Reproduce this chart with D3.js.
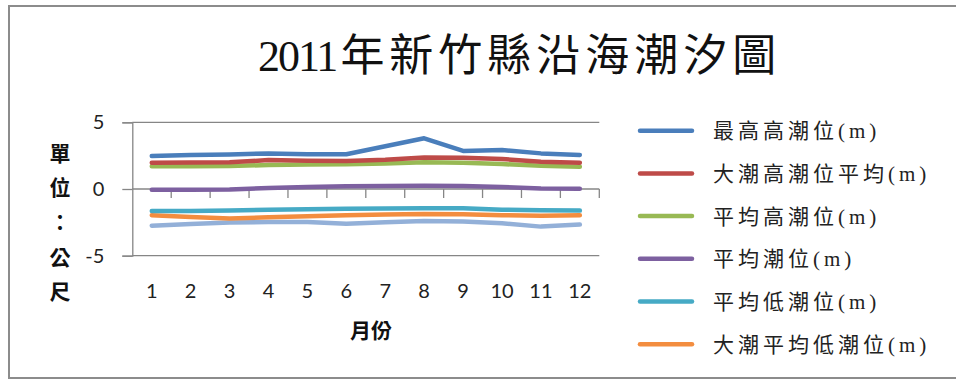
<!DOCTYPE html>
<html>
<head>
<meta charset="utf-8">
<script src="https://cdn.jsdelivr.net/npm/d3@7"></script>
<style>
  html, body { margin: 0; padding: 0; background: #fff; }
  svg { display: block; }
</style>
</head>
<body>
<svg id="chart" width="956" height="380"></svg>
<script>
// Monthly tide levels (m), Hsinchu County coast, 2011
const months = ["1", "2", "3", "4", "5", "6", "7", "8", "9", "10", "11", "12"];
const seriesNames = [
  "最高高潮位(m)",
  "大潮高潮位平均(m)",
  "平均高潮位(m)",
  "平均潮位(m)",
  "平均低潮位(m)",
  "大潮平均低潮位(m)",
  "最低低潮位(m)"
];
const highestHigh = [2.47, 2.55, 2.58, 2.67, 2.6, 2.6, 3.2, 3.8, 2.85, 2.92, 2.67, 2.55];
const springHighMean = [1.97, 1.98, 2.0, 2.17, 2.12, 2.1, 2.2, 2.37, 2.35, 2.25, 2.05, 1.97];
const meanHigh = [1.7, 1.7, 1.72, 1.8, 1.83, 1.85, 1.92, 2.0, 1.97, 1.87, 1.75, 1.67];
const meanLevel = [-0.05, -0.05, -0.03, 0.08, 0.15, 0.2, 0.22, 0.25, 0.23, 0.15, 0.03, 0.02];
const meanLow = [-1.65, -1.65, -1.62, -1.55, -1.52, -1.48, -1.47, -1.45, -1.45, -1.55, -1.6, -1.62];
const springLowMean = [-1.97, -2.1, -2.22, -2.12, -2.05, -1.97, -1.92, -1.87, -1.9, -1.97, -2.0, -1.97];
const lowestLow = [-2.75, -2.62, -2.52, -2.48, -2.47, -2.6, -2.5, -2.4, -2.43, -2.57, -2.82, -2.67];
const yTicks = [-5, 0, 5];
const legendCount = 6; // legend box only has room for the first six entries

const seriesValues = [highestHigh, springHighMean, meanHigh, meanLevel, meanLow, springLowMean, lowestLow];
const colors = ["#4a7ebb", "#be4b48", "#98b954", "#7d60a0", "#46aac5", "#f38d3f", "#93b0d8"];

const series = seriesNames.map((name, i) => ({ name, values: seriesValues[i], color: colors[i] }));

const svg = d3.select("#chart");

// chart frame
svg.append("rect")
  .attr("x", 9).attr("y", 6)
  .attr("width", 960).attr("height", 372)
  .attr("fill", "#fff")
  .attr("stroke", "#8c8c8c").attr("stroke-width", 2);

// title: narrow serif digits followed by wide-set CJK characters
const title = svg.append("text")
  .attr("x", 258).attr("y", 71)
  .attr("font-family", "'Liberation Serif', 'Noto Sans CJK TC', serif")
  .attr("fill", "#111");
title.append("tspan")
  .attr("font-size", 44).attr("letter-spacing", -2)
  .text("2011");
title.append("tspan")
  .attr("dx", 4)
  .attr("font-size", 44).attr("letter-spacing", 5)
  .text("年新竹縣沿海潮汐圖");

const plot = { left: 132.3, right: 599.3, top: 122.3, bottom: 255.7 };

const x = d3.scaleBand().domain(months).range([plot.left, plot.right]);
const y = d3.scaleLinear().domain([-5, 5]).range([plot.bottom, plot.top]);

const tickFont = "Lato, 'Open Sans', sans-serif";
const axisColor = "#868686";

// y axis with outward ticks
const yAxis = svg.append("g")
  .attr("transform", `translate(${plot.left},0)`)
  .call(d3.axisLeft(y).tickValues(yTicks).tickSize(10).tickPadding(18).tickFormat(d => String(d)));
yAxis.select(".domain").attr("stroke", axisColor).attr("stroke-width", 1.3);
yAxis.selectAll(".tick line").attr("stroke", axisColor).attr("stroke-width", 1.3);
yAxis.selectAll(".tick text")
  .attr("font-family", tickFont).attr("font-size", 20).attr("fill", "#222");

// gridlines at ±5
svg.append("g").selectAll("line")
  .data(yTicks.filter(d => d !== 0))
  .join("line")
  .attr("x1", plot.left).attr("x2", plot.right)
  .attr("y1", d => y(d)).attr("y2", d => y(d))
  .attr("stroke", axisColor).attr("stroke-width", 1.3);

// category axis on the zero line, ticks between categories
const xAxisLine = svg.append("g").attr("transform", `translate(0,${y(0)})`);
xAxisLine.append("line")
  .attr("x1", plot.left).attr("x2", plot.right)
  .attr("stroke", axisColor).attr("stroke-width", 1.3);
xAxisLine.selectAll("line.sep")
  .data(months)
  .join("line")
  .attr("class", "sep")
  .attr("x1", d => x(d) + x.bandwidth()).attr("x2", d => x(d) + x.bandwidth())
  .attr("y1", 0).attr("y2", 9)
  .attr("stroke", axisColor).attr("stroke-width", 1.3);

// month labels below the plot
svg.append("g").selectAll("text")
  .data(months)
  .join("text")
  .attr("x", d => x(d) + x.bandwidth() / 2)
  .attr("y", 298)
  .attr("text-anchor", "middle")
  .attr("font-family", tickFont).attr("font-size", 20).attr("fill", "#222")
  .text(d => d);

// axis titles
svg.append("text")
  .attr("x", 371).attr("y", 338)
  .attr("text-anchor", "middle")
  .attr("font-family", "'Noto Sans CJK TC', sans-serif")
  .attr("font-weight", 700).attr("font-size", 21).attr("fill", "#111")
  .text("月份");

const yTitle = ["單", "位", "：", "公", "尺"];
svg.append("g").selectAll("text")
  .data(yTitle)
  .join("text")
  .attr("x", 60)
  .attr("y", (d, i) => 153 + i * 34.7)
  .attr("dy", "0.36em")
  .attr("text-anchor", "middle")
  .attr("font-family", "'Noto Sans CJK TC', sans-serif")
  .attr("font-weight", 700).attr("font-size", 21).attr("fill", "#111")
  .text(d => d);

// series lines
const line = d3.line()
  .x((d, i) => x(months[i]) + x.bandwidth() / 2)
  .y(d => y(d));

svg.append("g").selectAll("path")
  .data(series.slice().reverse())
  .join("path")
  .attr("d", d => line(d.values))
  .attr("fill", "none")
  .attr("stroke", d => d.color)
  .attr("stroke-width", 4.5)
  .attr("stroke-linejoin", "round")
  .attr("stroke-linecap", "round");

// legend
const legend = svg.append("g").selectAll("g")
  .data(series.slice(0, legendCount))
  .join("g")
  .attr("transform", (d, i) => `translate(640,${130.7 + i * 42.7})`);
legend.append("line")
  .attr("x1", 0).attr("x2", 52)
  .attr("stroke", d => d.color).attr("stroke-width", 4.5)
  .attr("stroke-linecap", "round");
legend.append("text")
  .attr("x", 73).attr("dy", "0.36em")
  .attr("font-family", "'Liberation Serif', 'Noto Sans CJK TC', serif")
  .attr("font-size", 21).attr("letter-spacing", 4).attr("fill", "#222")
  .text(d => d.name);
</script>
</body>
</html>
